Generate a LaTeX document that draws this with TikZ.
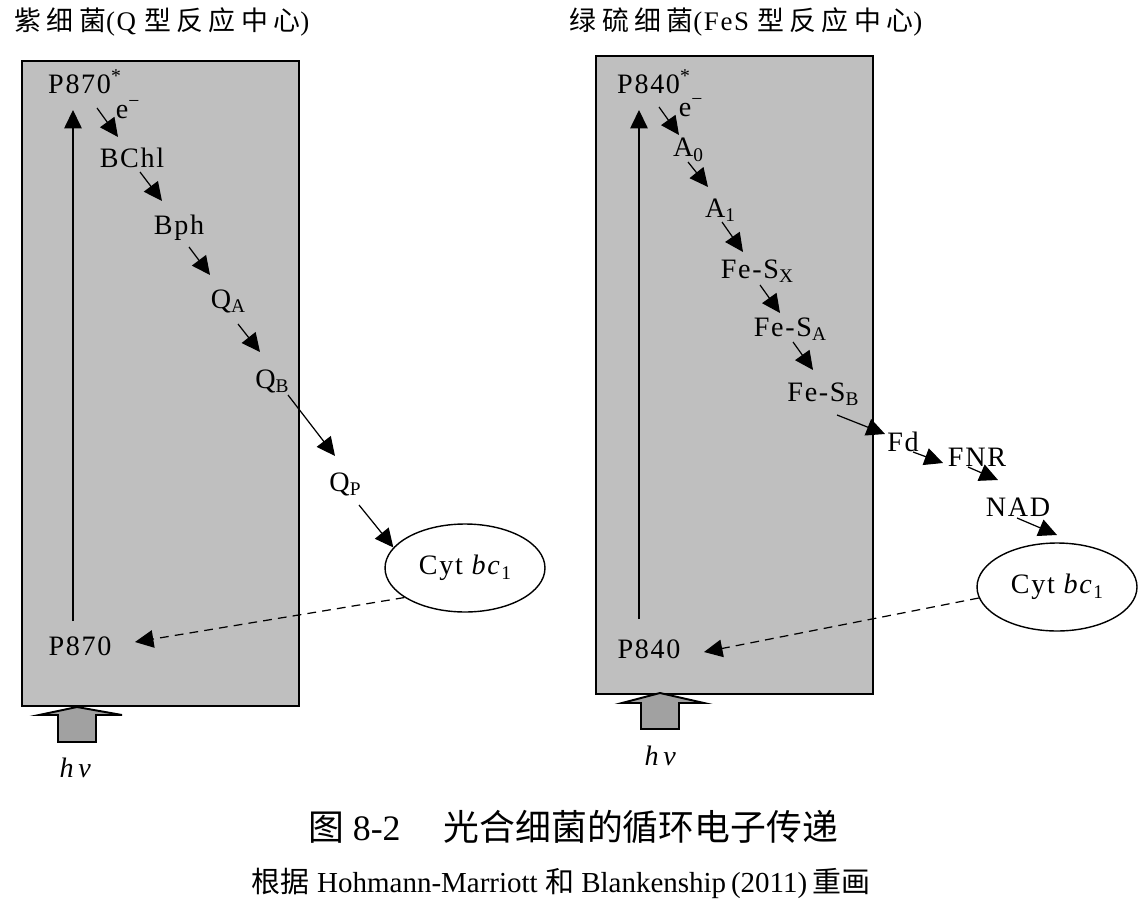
\documentclass[tikz,border=0pt]{standalone}
\usepackage{fontspec}
\setmainfont{Liberation Serif}
\newfontfamily\lbl{Liberation Serif}[LetterSpace=6]
\newfontfamily\cjk{Noto Sans CJK SC}[LetterSpace=20]
\newfontfamily\cjkcap{Noto Sans CJK SC}
\newcommand\lowsub[1]{\raisebox{-2.5pt}{\fontsize{11}{11}\selectfont #1}}
\usetikzlibrary{arrows.meta, calc, shapes.geometric}

\begin{document}
\begin{tikzpicture}[x=0.02cm, y=-0.02cm, font={\lbl\fontsize{16}{18}\selectfont}, reaction center/.style={draw, line width=1.1pt, fill=black!25}, heading/.style={font={\lbl\fontsize{15.3}{18}\selectfont}}, caption/.style={font={\rmfamily\fontsize{20.4}{24}\selectfont}}, source/.style={font={\rmfamily\fontsize{16.5}{20}\selectfont}}, electron/.style={inner sep=0pt}, cytochrome/.style={draw, ellipse, line width=0.8pt, fill=white, minimum width=3.2cm, minimum height=1.76cm, inner sep=0pt}, electron flow/.style={line width=0.7pt, -{Triangle[length=10.5pt,width=10pt]}}, cyclic return/.style={electron flow, dash pattern=on 5pt off 3.5pt}, light/.style={draw, line width=1.1pt, fill=black!37, line join=miter}]
\useasboundingbox (0,0) rectangle (1141,898);

% purple bacteria
\node [heading] (titleL) at (162,22) {{\cjk 紫细菌}(Q {\cjk 型反应中心})};
\draw [reaction center] (22,61) rectangle (299,706);
\node (p870s) at (85,82) {P870\textsuperscript{*}};
\node [electron] (eL) at (128,110) {e\textsuperscript{−}};
\node (bchl) at (132,158) {BChl};
\node (bph) at (179,228) {Bph};
\node (qa) at (228,301) {Q\lowsub{A}};
\node (qb) at (272,381) {Q\lowsub{B}};
\node (qp) at (345,484) {Q\lowsub{P}};
\node [cytochrome] (cytL) at (465,568) {Cyt \textit{bc}\lowsub{1}};
\node (p870) at (80,646) {P870};
\node (hvL) at (76,768) {\textit{h\,ν}};
\draw [light] (58,742) -- (58,715) -- (39,715) -- (77,707) -- (122,715) -- (96,715) -- (96,742) -- cycle;

\draw [electron flow] ($(p870)+(-7,-25)$) -- ($(p870s)+(-12,28)$);
\draw [electron flow] ($(p870s)+(12,26)$) -- ($(bchl)+(-14,-21)$);
\draw [electron flow] ($(bchl)+(8,14)$) -- ($(bph)+(-17,-27)$);
\draw [electron flow] ($(bph)+(10,19)$) -- ($(qa)+(-18,-26)$);
\draw [electron flow] ($(qa)+(10,23)$) -- ($(qb)+(-12,-29)$);
\draw [electron flow] ($(qb)+(16,14)$) -- ($(qp)+(-10,-28)$);
\draw [electron flow] ($(qp)+(14,21)$) -- (cytL.164);
\draw [cyclic return] (cytL.206) -- ($(p870)+(55,-4)$);

% green sulfur bacteria
\node [heading] (titleR) at (746,22) {{\cjk 绿硫细菌}(FeS {\cjk 型反应中心})};
\draw [reaction center] (596,56) rectangle (873,694);
\node (p840s) at (654,82) {P840\textsuperscript{*}};
\node [electron] (eR) at (691,108) {e\textsuperscript{−}};
\node (a0) at (688,150) {A\lowsub{0}};
\node (a1) at (720,210) {A\lowsub{1}};
\node (fesx) at (757,271) {Fe-S\lowsub{X}};
\node (fesa) at (790,329) {Fe-S\lowsub{A}};
\node (fesb) at (823,394) {Fe-S\lowsub{B}};
\node (fd) at (903,442) {Fd};
\node (fnr) at (977,457) {FNR};
\node (nad) at (1018,507) {NAD};
\node [cytochrome] (cytR) at (1057,587) {Cyt \textit{bc}\lowsub{1}};
\node (p840) at (649,649) {P840};
\node (hvR) at (661,756) {\textit{h\,ν}};
\draw [light] (641,729) -- (641,703) -- (622,703) -- (660,693) -- (704,703) -- (679,703) -- (679,729) -- cycle;

\draw [electron flow] ($(p840)+(-10,-30)$) -- ($(p840s)+(-15,28)$);
\draw [electron flow] ($(p840s)+(5,25)$) -- ($(a0)+(-9,-15)$);
\draw [electron flow] ($(a0)+(0,12)$) -- ($(a1)+(-12,-23)$);
\draw [electron flow] ($(a1)+(2,12)$) -- ($(fesx)+(-14,-19)$);
\draw [electron flow] ($(fesx)+(3,14)$) -- ($(fesa)+(-10,-16)$);
\draw [electron flow] ($(fesa)+(3,13)$) -- ($(fesb)+(-10,-24)$);
\draw [electron flow] ($(fesb)+(14,21)$) -- ($(fd)+(-18,-8)$);
\draw [electron flow] ($(fd)+(10,10)$) -- ($(fnr)+(-34,6)$);
\draw [electron flow] ($(fnr)+(-9,10)$) -- ($(nad)+(-20,-27)$);
\draw [electron flow] ($(nad)+(-1,11)$) -- ($(cytR)+(0,-52)$);
\draw [cyclic return] (cytR.188) -- ($(p840)+(55,3)$);

% caption
\node [caption] (figtitle) at (573,827) {{\cjkcap 图} 8-2\hspace{1.2em}{\cjkcap 光合细菌的循环电子传递}};
\node [source] (figsource) at (561,883) {{\cjkcap 根据} Hohmann-Marriott {\cjkcap 和} Blankenship\,(2011)\,{\cjkcap 重画}};
\end{tikzpicture}
\end{document}
